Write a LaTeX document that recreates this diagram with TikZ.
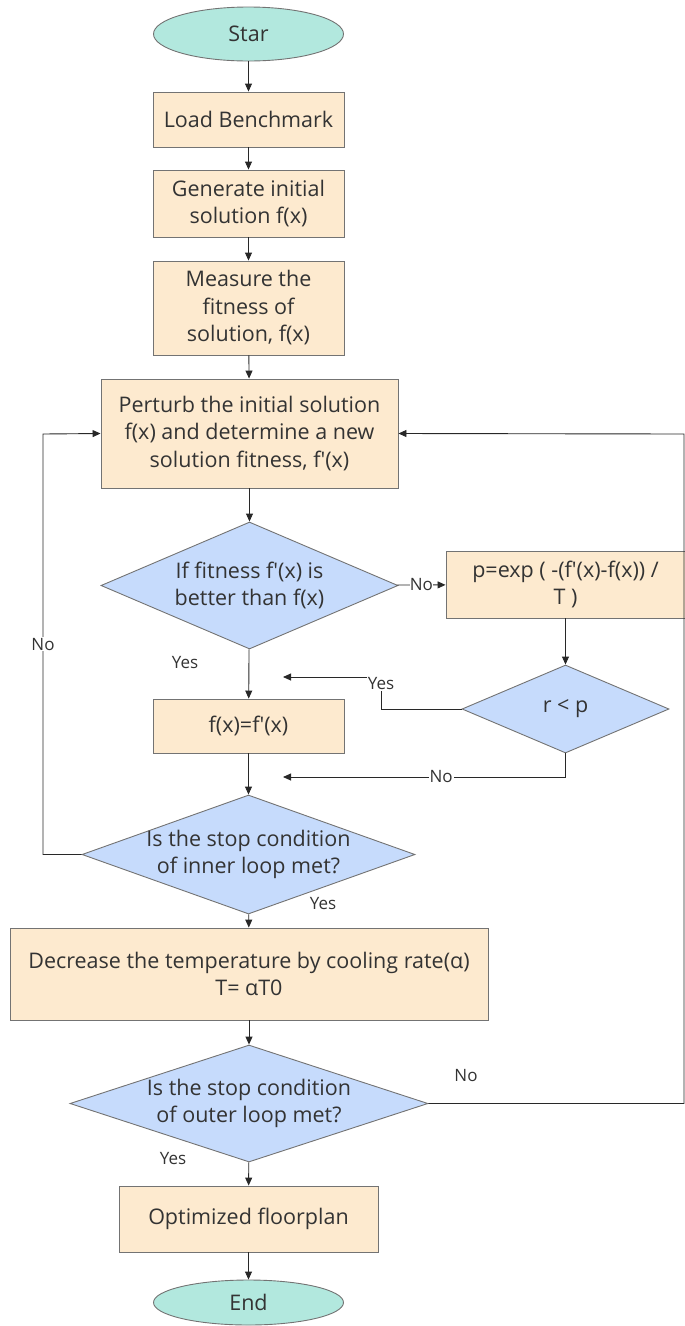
\documentclass[tikz,border=0pt]{standalone}
\usepackage{fontspec}
\setmainfont{Open Sans}
\usetikzlibrary{shapes.geometric,arrows.meta}
\definecolor{boxfill}{RGB}{253,234,207}
\definecolor{boxline}{RGB}{115,115,115}
\definecolor{dfill}{RGB}{198,219,252}
\definecolor{efill}{RGB}{178,232,222}
\definecolor{txt}{RGB}{51,51,51}
\definecolor{ln}{RGB}{40,40,40}
\newcommand{\pr}{\textquotesingle}
\begin{document}
\begin{tikzpicture}[x=1pt,y=-1pt,
 every node/.style={text=txt},
 proc/.style={draw=boxline, fill=boxfill, line width=0.9pt, inner sep=0pt, align=center, font=\fontsize{21.5}{27.5}\selectfont},
 dec/.style={draw=boxline, fill=dfill, diamond, inner sep=0pt, line width=0.9pt},
 dtext/.style={align=center, inner sep=0pt, font=\fontsize{21.5}{27.5}\selectfont},
 term/.style={ellipse, draw=boxline, fill=efill, line width=0.9pt, inner sep=0pt, minimum width=190pt, font=\fontsize{21.5}{24}\selectfont},
 arr/.style={-{Triangle[length=8pt,width=7pt]}, line width=0.9pt, draw=ln},
 lab/.style={font=\fontsize{17}{19}\selectfont, fill=white, inner sep=1pt}
]
\useasboundingbox (0,0) rectangle (685,1326);

\node[term, minimum height=54pt] (start) at (248.5,34) {Star};
\node[proc, minimum width=191pt, minimum height=55pt] (load) at (248.5,119.5) {Load Benchmark};
\node[proc, minimum width=191pt, minimum height=67pt] (gen) at (248.5,203.5) {Generate initial\\solution f(x)};
\node[proc, minimum width=191pt, minimum height=94pt] (meas) at (248.5,308) {Measure the\\fitness of\\solution, f(x)};
\node[proc, minimum width=297pt, minimum height=109pt] (pert) at (249.5,433.5) {Perturb the initial solution\\f(x) and determine a new\\solution fitness, f\pr(x)};

\node[dec, minimum width=297pt, minimum height=127pt] (d1) at (249.5,585.5) {};
\node[dtext] (d1t) at (d1.center) {If fitness f\pr(x) is\\better than f(x)};

\node[proc, minimum width=239pt, minimum height=67pt] (pexp) at (565.5,584.5) {p=exp ( -(f\pr(x)-f(x)) /\\T )};

\node[dec, minimum width=207pt, minimum height=88pt] (d4) at (565.5,709) {};
\node[dtext] (d4t) at (d4.center) {r < p};

\node[proc, minimum width=191pt, minimum height=54pt] (upd) at (248.5,726) {f(x)=f\pr(x)};

\node[dec, minimum width=333pt, minimum height=119pt] (d2) at (248.5,854.5) {};
\node[dtext] (d2t) at (d2.center) {Is the stop condition\\of inner loop met?};

\node[proc, minimum width=478pt, minimum height=92pt] (dec) at (249,974) {Decrease the temperature by cooling rate(α)\\T= αT0};

\node[dec, minimum width=358pt, minimum height=117pt] (d3) at (249,1103.5) {};
\node[dtext] (d3t) at (d3.center) {Is the stop condition\\of outer loop met?};

\node[proc, minimum width=259pt, minimum height=66pt] (opt) at (248.5,1219) {Optimized floorplan};
\node[term, minimum height=45pt] (end) at (248.5,1302.5) {End};

\coordinate (yesA) at (283,677);
\coordinate (noA) at (283,777);

\draw[arr] (start) -- (load);
\draw[arr] (load) -- (gen);
\draw[arr] (gen) -- (meas);
\draw[arr] (meas) -- (pert);
\draw[arr] (pert) -- (d1);
\draw[arr] (d1) -- node[lab, inner sep=0.3pt]{No} (pexp);
\draw[arr] (d1) -- (upd);
\node[lab, fill=none] (ly1) at (185,663) {Yes};
\draw[arr] (pexp) -- (d4);
\draw[arr] (d4.west) -| (381,677) -- (yesA);
\node[lab] (ly2) at (381,684) {Yes};
\draw[arr] (d4.south) |- node[lab, pos=0.72]{No} (noA);
\draw[arr] (upd) -- (d2);
\draw[arr] (d2.west) -| node[lab, pos=0.75]{No} (43,434) -- (pert.west);
\draw[arr] (d2) -- (dec);
\node[lab, fill=none] (ly3) at (323,904) {Yes};
\draw[arr] (dec) -- (d3);
\draw[arr] (d3.east) -| (684,434) -- (pert.east);
\node[lab, fill=none] (ln3) at (466,1076) {No};
\draw[arr] (d3) -- (opt);
\node[lab, fill=none] (ly4) at (173,1158) {Yes};
\draw[arr] (opt) -- (end);
\end{tikzpicture}
\end{document}
